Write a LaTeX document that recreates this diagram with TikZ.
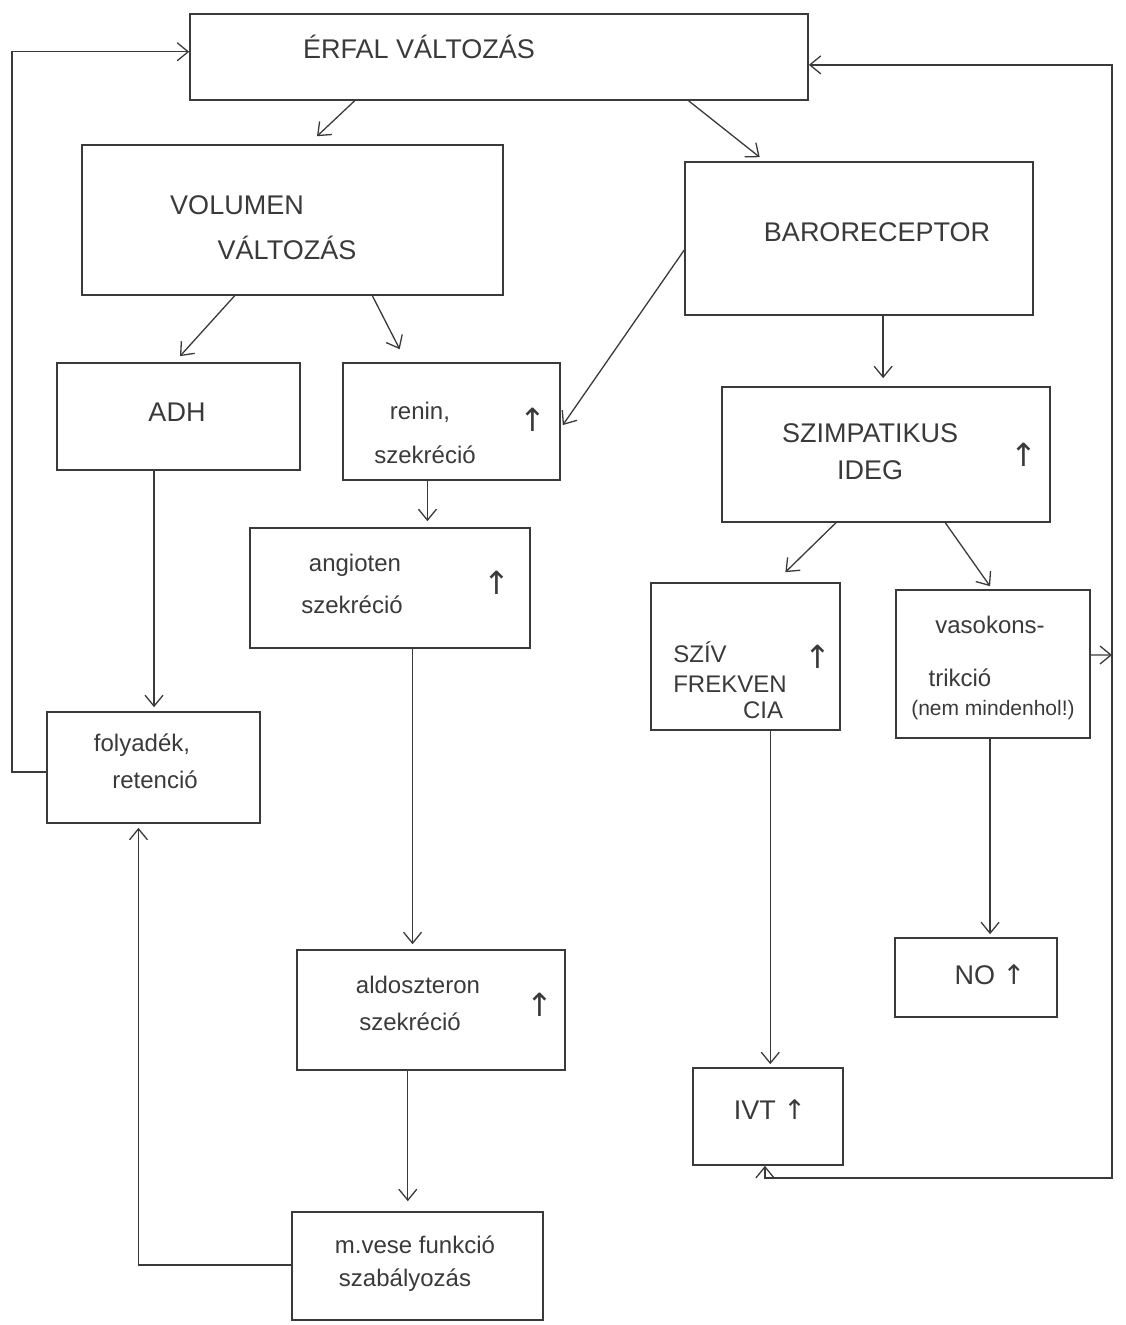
\documentclass[tikz,border=0pt]{standalone}
\usepackage{fontspec}
\setmainfont{Liberation Sans}
\newfontfamily\symf{DejaVu Sans}
\usetikzlibrary{arrows.meta,calc}
\definecolor{ink}{HTML}{3A3A3A}
\tikzset{
  box/.style={draw=ink, line width=1.6pt, inner sep=0pt},
  txt/.style={text=ink, inner sep=0pt, font=\fontsize{24}{28}\selectfont},
  big/.style={text=ink, inner sep=0pt, font=\fontsize{27}{30}\selectfont},
  small/.style={text=ink, inner sep=0pt, font=\fontsize{21}{24}\selectfont},
  upar/.style={text=ink, inner sep=0pt, font=\symf\fontsize{32}{34}\selectfont},
  arr/.style={draw=ink, line width=1.3pt, -{Straight Barb[length=11pt,width=18pt]}},
}
\begin{document}
\begin{tikzpicture}[x=1pt,y=-1pt]
\useasboundingbox (0,0) rectangle (1126,1325);
% boxes
\node[box, minimum width=618pt, minimum height=86pt] (erfal) at (499,57) {};
\node[box, minimum width=421pt, minimum height=150pt] (vol) at (292.5,220) {};
\node[box, minimum width=348pt, minimum height=153pt] (baro) at (859,238.5) {};
\node[box, minimum width=243pt, minimum height=107pt] (adh) at (178.5,416.5) {};
\node[box, minimum width=217pt, minimum height=117pt] (renin) at (451.5,421.5) {};
\node[box, minimum width=280pt, minimum height=120pt] (angio) at (390,588) {};
\node[box, minimum width=213pt, minimum height=111pt] (foly) at (153.5,767.5) {};
\node[box, minimum width=268pt, minimum height=120pt] (aldo) at (431,1010) {};
\node[box, minimum width=251pt, minimum height=108pt] (vese) at (417.5,1266) {};
\node[box, minimum width=328pt, minimum height=135pt] (szimp) at (886,454.5) {};
\node[box, minimum width=189pt, minimum height=147pt] (sziv) at (745.5,656.5) {};
\node[box, minimum width=194pt, minimum height=148pt] (vaso) at (993,664) {};
\node[box, minimum width=162pt, minimum height=79pt] (no) at (976,977.5) {};
\node[box, minimum width=150pt, minimum height=97pt] (ivt) at (768,1116.5) {};
% texts
\node[big] (t-erfal) at (419,47) {ÉRFAL VÁLTOZÁS};
\node[big] (t-vol1) at (237,205) {VOLUMEN};
\node[big] (t-vol2) at (287,248) {VÁLTOZÁS};
\node[big] (t-baro) at (877,232) {BARORECEPTOR};
\node[big] (t-adh) at (177,412) {ADH};
\node[txt] (t-ren1) at (420,412) {renin,};
\node[txt] (t-ren2) at (425,455) {szekréció};
\node[upar] (u-ren) at (533,420) {↑};
\node[txt] (t-ang1) at (355,565) {angioten};
\node[txt] (t-ang2) at (352,605) {szekréció};
\node[upar] (u-ang) at (497,583) {↑};
\node[txt] (t-fol1) at (142,745) {folyadék,};
\node[txt] (t-fol2) at (155,780) {retenció};
\node[txt] (t-ald1) at (418,985) {aldoszteron};
\node[txt] (t-ald2) at (410,1022) {szekréció};
\node[upar] (u-ald) at (540,1005) {↑};
\node[txt] (t-ves1) at (415,1245) {m.vese funkció};
\node[txt] (t-ves2) at (405,1280) {szabályozás};
\node[big] (t-szi1) at (870,433) {SZIMPATIKUS};
\node[big] (t-szi2) at (870,470) {IDEG};
\node[upar] (u-szi) at (1024,455) {↑};
\node[txt] (t-sv1) at (700,652) {SZÍV};
\node[txt] (t-sv2) at (730,684) {FREKVEN};
\node[txt] (t-sv3) at (763,710) {CIA};
\node[upar] (u-sv) at (818,657) {↑};
\node[txt] (t-va1) at (990,625) {vasokons-};
\node[txt] (t-va2) at (960,678) {trikció};
\node[small] (t-va3) at (993,710) {(nem mindenhol!)};
\node[big] (t-no) at (990,975) {NO {\symf↑}};
\node[big] (t-ivt) at (770,1110) {IVT {\symf↑}};
% rails
\coordinate (leftrail) at (12,0);
\coordinate (J) at (1112,655);
\coordinate (rb) at (1112,1178);
% connectors
\draw[arr] ($(erfal.south west)!0.267!(erfal.south east)$) -- ($(vol.north west)!0.558!(vol.north east)+(0,-8)$);
\draw[arr] ($(erfal.south west)!0.806!(erfal.south east)$) -- ($(baro.north west)!0.216!(baro.north east)+(0,-4)$);
\draw[arr] ($(vol.south west)!0.363!(vol.south east)$) -- ($(adh.north west)!0.506!(adh.north east)+(0,-6)$);
\draw[arr] ($(vol.south west)!0.689!(vol.south east)$) -- ($(renin.north west)!0.263!(renin.north east)+(0,-13)$);
\draw[arr] ($(baro.north west)!0.575!(baro.south west)$) -- ($(renin.north east)!0.53!(renin.south east)+(2,0)$);
\coordinate (b1) at ($(baro.south west)!0.569!(baro.south east)$);
\draw[arr, shorten >=8pt] (b1) -- (b1 |- szimp.north);
\coordinate (r1) at ($(renin.south west)!0.39!(renin.south east)$);
\draw[arr, shorten >=6pt] (r1) -- (r1 |- angio.north);
\coordinate (a1) at ($(angio.south west)!0.58!(angio.south east)$);
\draw[arr, shorten >=5pt] (a1) -- (a1 |- aldo.north);
\coordinate (a2) at ($(aldo.south west)!0.414!(aldo.south east)$);
\draw[arr, shorten >=10pt] (a2) -- (a2 |- vese.north);
\coordinate (v1) at ($(vese.north west)!0.49!(vese.south west)$);
\coordinate (f1) at ($(foly.south west)!0.43!(foly.south east)$);
\draw[arr, shorten >=4pt] (v1) -| (f1);
\coordinate (h1) at ($(adh.south west)!0.4!(adh.south east)$);
\draw[arr, shorten >=4pt] (h1) -- (h1 |- foly.north);
\coordinate (fl) at ($(foly.north west)!0.54!(foly.south west)$);
\coordinate (el) at ($(erfal.north west)!0.44!(erfal.south west)$);
\draw[arr] (fl) -- (fl -| leftrail) -- (leftrail |- el) -- (el);
\draw[arr] ($(szimp.south west)!0.348!(szimp.south east)$) -- ($(sziv.north west)!0.709!(sziv.north east)+(0,-10)$);
\draw[arr] ($(szimp.south west)!0.68!(szimp.south east)$) -- ($(vaso.north west)!0.485!(vaso.north east)+(0,-3)$);
\coordinate (s1) at ($(sziv.south west)!0.63!(sziv.south east)$);
\draw[arr, shorten >=3pt] (s1) -- (s1 |- ivt.north);
\coordinate (o1) at ($(vaso.south west)!0.485!(vaso.south east)$);
\draw[arr, shorten >=3pt] (o1) -- (o1 |- no.north);
\coordinate (vr) at ($(vaso.north east)!0.44!(vaso.south east)$);
\draw[arr] (vr) -- (J);
\coordinate (er) at ($(erfal.north east)!0.59!(erfal.south east)$);
\draw[arr] (J) |- (er);
\coordinate (ib) at ($(ivt.south west)!0.48!(ivt.south east)$);
\draw[arr] (J) -- (rb) -- (rb -| ib) -- (ib);
\end{tikzpicture}
\end{document}
